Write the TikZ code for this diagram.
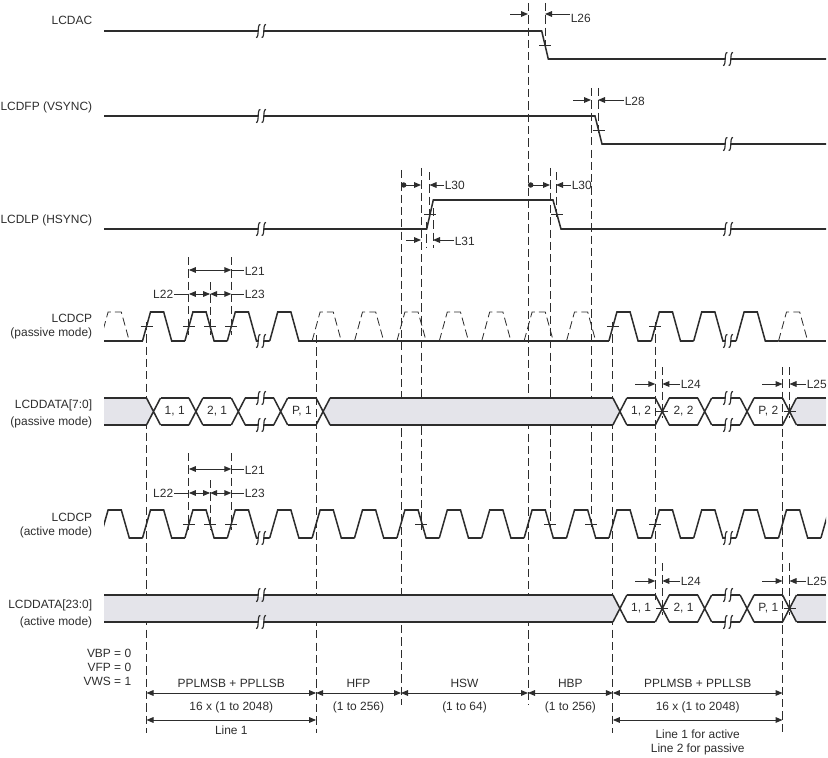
\documentclass[tikz,border=0pt]{standalone}
\usepackage{fontspec}
\setmainfont{Liberation Sans}
\usetikzlibrary{arrows.meta}

\definecolor{wire}{RGB}{45,45,45}
\definecolor{bandgray}{RGB}{228,228,234}

% break mark on a signal line
\newcommand{\sigbreak}[2]{%
  \fill[white] (#1-2.8,#2-1.6) rectangle (#1+2.8,#2+1.6);
  \draw[wire, line width=1pt]
    (#1-0.6,#2-6.5) .. controls (#1-4.3,#2-7) and (#1-1.3,#2+7) .. (#1-5,#2+6.5)
    (#1+5,#2-6.5) .. controls (#1+1.3,#2-7) and (#1+4.3,#2+7) .. (#1+0.6,#2+6.5);
}

\tikzset{
  sig/.style={wire, line width=1.3pt},
  guide/.style={wire, line width=0.7pt, dash pattern=on 7pt off 3.5pt},
  lead/.style={wire, line width=0.85pt},
  tip/.style={lead, -{Triangle[length=2.1mm,width=1.7mm]}},
  dottip/.style={lead, {Circle[length=1.6mm]}-{Triangle[length=2.1mm,width=1.7mm]}},
  dimline/.style={lead, {Triangle[length=2.1mm,width=1.7mm]}-{Triangle[length=2.1mm,width=1.7mm]}},
  edgetick/.style={wire, line width=0.75pt},
  lbl/.style={font=\fontsize{10.2}{12}\selectfont, text=wire, inner sep=0.5pt},
  signame/.style={lbl, anchor=east, align=right},
  tag/.style={lbl, anchor=west},
}

\begin{document}
\begin{tikzpicture}[x=0.03cm, y=-0.03cm]
    \useasboundingbox (0,0) rectangle (828,758);

    % Draw signal names
    \node[signame] (ac) at (93,20) {LCDAC};
    \node[signame] (fp) at (93,107) {LCDFP (VSYNC)};
    \node[signame] (lp) at (93,220) {LCDLP (HSYNC)};
    \node[signame] (cpp) at (93,327) {LCDCP\\(passive mode)};
    \node[signame] (datp) at (93,414) {LCDDATA[7:0]\\[3pt](passive mode)};
    \node[signame] (cpa) at (93,526) {LCDCP\\(active mode)};
    \node[signame] (data) at (93,614) {LCDDATA[23:0]\\[3pt](active mode)};
    \node[signame] (vert) at (132,667) {VBP = 0\\VFP = 0\\VWS = 1};

    % Draw guide lines
    \foreach \x/\ya/\yb in {146.5/322/733, 188.9/257/335, 210.1/282/335, 231.3/257/335,
        188.9/453/530, 210.1/480/530, 231.3/453/530, 316.1/335/733, 401/170/705,
        421/168/530, 426/222/248, 429.5/172/218, 433/208/248, 528/3/705, 545/3/50,
        550/168/530, 556/172/218, 591/88/530, 598/88/135, 612.9/322/733,
        655.3/322/600, 662.3/367/418, 662.3/563/615, 782.5/367/733,
        789.5/367/418, 789.5/563/615}
        \draw[guide] (\x,\ya) -- (\x,\yb);

    % Draw LCDAC, LCDFP, LCDLP
    \draw[sig] (104,31) -- (541.7,31) -- (548.3,59) -- (826,59);
    \draw[sig] (104,116) -- (595,116) -- (602,144) -- (826,144);
    \draw[sig] (104,229) -- (426.7,229) -- (433.3,200) -- (553,200) -- (561,229) -- (826,229);

    % Draw pixel clocks
    \begin{scope}
        \clip (104,0) rectangle (826,758);
        \foreach \k in {0,1,2,3,11,12,13,14} {
            \pgfmathsetmacro\s{142.5+42.4*\k}
            \draw[sig] (\s,341) -- ++(8,-29) -- ++(13.2,0) -- ++(8,29) -- ++(13.2,0);
        }
        \foreach \k in {-1,4,5,6,7,8,9,10,15} {
            \pgfmathsetmacro\s{142.5+42.4*\k}
            \draw[sig] (\s,341) -- ++(42.4,0);
            \draw[guide] (\s,341) -- ++(8,-29) -- ++(13.2,0) -- ++(8,29);
        }
        \draw[sig] (821,341) -- (826,341);
        \foreach \k in {-1,0,...,16} {
            \pgfmathsetmacro\s{142.5+42.4*\k}
            \draw[sig] (\s,538) -- ++(8,-28) -- ++(13.2,0) -- ++(8,28) -- ++(13.2,0);
        }
    \end{scope}

    % Draw data buses
    \fill[bandgray] (104,398) -- (146.5,398) -- (153.5,411.5) -- (146.5,425) -- (104,425) -- cycle;
    \fill[bandgray] (330.1,398) -- (612.9,398) -- (619.9,411.5) -- (612.9,425) -- (330.1,425) -- (323.1,411.5) -- cycle;
    \fill[bandgray] (104,595) -- (612.9,595) -- (619.9,608.5) -- (612.9,622) -- (104,622) -- cycle;
    \foreach \c in {153.5,195.9,238.3,280.7,323.1}
        \draw[sig] (\c-7,398) -- (\c+7,425) (\c-7,425) -- (\c+7,398);
    \foreach \a/\b in {104/146.5,160.5/188.9,202.9/231.3,245.3/273.7,287.7/316.1,330.1/612.9}
        \draw[sig] (\a,398) -- (\b,398) (\a,425) -- (\b,425);
    \draw[sig] (104,595) -- (612.9,595) (104,622) -- (612.9,622);
    \foreach \yt in {398,595} {
        \fill[bandgray] (796.5,\yt) -- (826,\yt) -- (826,\yt+27) -- (796.5,\yt+27) -- (789.5,\yt+13.5) -- cycle;
        \foreach \c in {619.9,662.3,704.7,747.1,789.5}
            \draw[sig] (\c-7,\yt) -- (\c+7,\yt+27) (\c-7,\yt+27) -- (\c+7,\yt);
        \foreach \a/\b in {626.9/655.3,669.3/697.7,711.7/740.1,754.1/782.5,796.5/826}
            \draw[sig] (\a,\yt) -- (\b,\yt) (\a,\yt+27) -- (\b,\yt+27);
    }
    \node[lbl] (p11) at (174.7,411.5) {1, 1};
    \node[lbl] (p21) at (217.1,411.5) {2, 1};
    \node[lbl] (pp1) at (301.9,411.5) {P, 1};
    \node[lbl] (p12) at (641.1,411.5) {1, 2};
    \node[lbl] (p22) at (683.5,411.5) {2, 2};
    \node[lbl] (pp2) at (768.3,411.5) {P, 2};
    \node[lbl] (a11) at (641.1,608.5) {1, 1};
    \node[lbl] (a21) at (683.5,608.5) {2, 1};
    \node[lbl] (ap1) at (768.3,608.5) {P, 1};

    % Draw break marks
    \foreach \y in {31,116,229,341,398,425,538,595,622} \sigbreak{261}{\y};
    \foreach \y in {59,144,229,341,398,425,538,595,622} \sigbreak{728}{\y};

    % Draw edge ticks
    \foreach \x/\y in {545/45, 598.5/130, 430/214.5, 557/214.5, 146.5/326.5, 188.9/326.5,
        210.1/326.5, 231.3/326.5, 612.9/326.5, 655.3/326.5, 188.9/524, 210.1/524,
        231.3/524, 421/524, 550/524, 591/524, 655.3/524, 662.3/411.5, 789.5/411.5,
        662.3/608.5, 789.5/608.5}
        \draw[edgetick] (\x-6,\y) -- (\x+6,\y);

    % Draw timing parameters
    \node[tag] (l26) at (570,18) {L26};
    \draw[tip] (510,14) -- (528,14);
    \draw[tip] (l26.west |- 0,14) -- (545,14);
    \node[tag] (l28) at (624,101) {L28};
    \draw[tip] (573,100) -- (591,100);
    \draw[tip] (l28.west |- 0,100) -- (598,100);
    \node[tag] (l30a) at (444,185) {L30};
    \draw[dottip] (401,185) -- (421,185);
    \draw[tip] (l30a.west) -- (429.5,185);
    \node[tag] (l30b) at (571,185) {L30};
    \draw[dottip] (528,185) -- (550,185);
    \draw[tip] (l30b.west) -- (556,185);
    \node[tag] (l31) at (454,241) {L31};
    \draw[tip] (406,240) -- (421,240);
    \draw[tip] (l31.west |- 0,240) -- (433,240);

    \foreach \yo/\m in {0/p,199/a} {
        \node[tag] (l21\m) at (244,271+\yo) {L21};
        \draw[dimline] (188.9,270+\yo) -- (231.3,270+\yo);
        \draw[lead] (231.3,270+\yo) -- (l21\m.west |- 0,270+\yo);
        \node[tag] (l23\m) at (244,294+\yo) {L23};
        \node[lbl, anchor=east] (l22\m) at (174,294+\yo) {L22};
        \draw[lead] (l22\m.east) -- (188.9,294+\yo);
        \draw[dimline] (188.9,294+\yo) -- (210.1,294+\yo);
        \draw[dimline] (210.1,294+\yo) -- (231.3,294+\yo);
        \draw[lead] (231.3,294+\yo) -- (l23\m.west);
    }
    \foreach \yo/\m in {0/p,197/a} {
        \node[tag] (l24\m) at (680,384+\yo) {L24};
        \draw[tip] (635,384+\yo) -- (655.3,384+\yo);
        \draw[tip] (l24\m.west) -- (662.3,384+\yo);
        \node[tag] (l25\m) at (806,384+\yo) {L25};
        \draw[tip] (762,384+\yo) -- (782.5,384+\yo);
        \draw[tip] (l25\m.west) -- (789.5,384+\yo);
    }

    % Draw line timing
    \foreach \n/\x in {a/146.5, b/316.1, c/401, d/528, e/612.9, f/782.5}
        \coordinate (dim\n) at (\x,693);
    \draw[dimline] (dima) -- (dimb);
    \draw[dimline] (dimb) -- (dimc);
    \draw[dimline] (dimc) -- (dimd);
    \draw[dimline] (dimd) -- (dime);
    \draw[dimline] (dime) -- (dimf);
    \draw[dimline] (146.5,720) -- (316.1,720);
    \draw[dimline] (612.9,720) -- (782.5,720);
    \node[lbl] (ppla) at (231.3,683) {PPLMSB + PPLLSB};
    \node[lbl] (cnta) at (231.3,707) {16 x (1 to 2048)};
    \node[lbl] (line1) at (231.3,730) {Line 1};
    \node[lbl] (hfp) at (358.5,683) {HFP};
    \node[lbl] (hfpr) at (358.5,707) {(1 to 256)};
    \node[lbl] (hsw) at (464.5,683) {HSW};
    \node[lbl] (hswr) at (464.5,707) {(1 to 64)};
    \node[lbl] (hbp) at (570.4,683) {HBP};
    \node[lbl] (hbpr) at (570.4,707) {(1 to 256)};
    \node[lbl] (pplb) at (697.7,683) {PPLMSB + PPLLSB};
    \node[lbl] (cntb) at (697.7,707) {16 x (1 to 2048)};
    \node[lbl, align=center] (line2) at (697.7,742) {Line 1 for active\\Line 2 for passive};
\end{tikzpicture}
\end{document}
